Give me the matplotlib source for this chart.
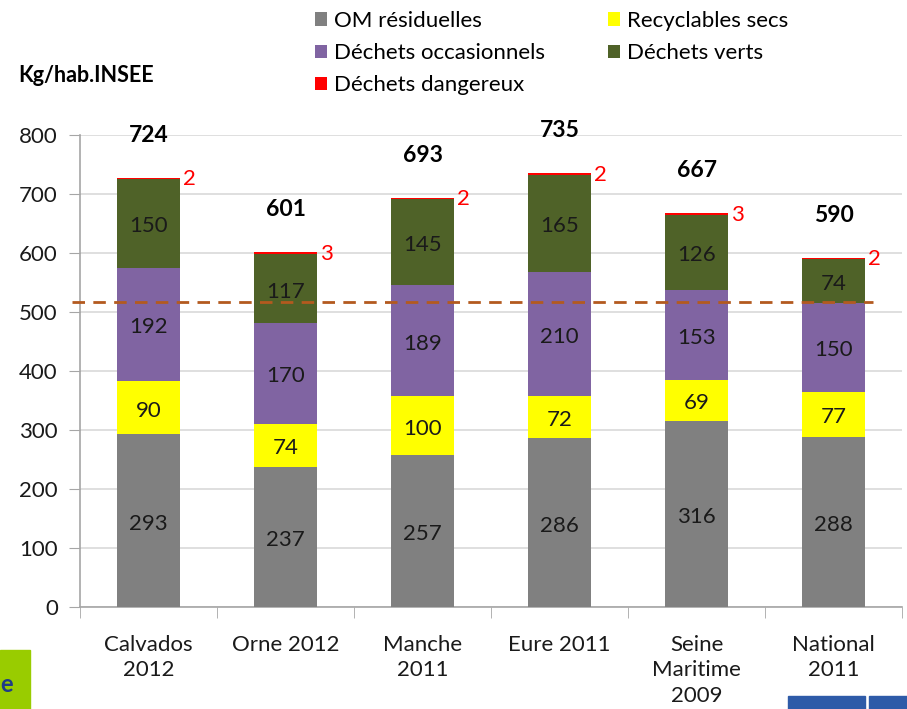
import numpy as np
import matplotlib.pyplot as plt
from matplotlib.patches import Rectangle

# data
regions = ["Calvados\n2012", "Orne 2012", "Manche\n2011", "Eure 2011", "Seine\nMaritime\n2009", "National\n2011"]
om_residuelles = [293, 237, 257, 286, 316, 288]
recyclables = [90, 74, 100, 72, 69, 77]
occasionnels = [192, 170, 189, 210, 153, 150]
verts = [150, 117, 145, 165, 126, 74]
dangereux = [2, 3, 2, 2, 3, 2]
totals = [724, 601, 693, 735, 667, 590]
ref_line = 517

series = [
    ("OM résiduelles", om_residuelles, "#808080"),
    ("Recyclables secs", recyclables, "#FFFF00"),
    ("Déchets occasionnels", occasionnels, "#8064A2"),
    ("Déchets verts", verts, "#4F6228"),
    ("Déchets dangereux", dangereux, "#FF0000"),
]

plt.rcParams["font.family"] = ["Lato", "DejaVu Sans"]
fs = 16

fig = plt.figure(figsize=(9.07, 7.09), dpi=100)
ax = fig.add_axes([80 / 907, 102 / 709, 822 / 907, 472 / 709])

x = np.arange(len(regions))
bottom = np.zeros(len(regions))
handles = []
for name, vals, col in series:
    vals = np.array(vals, dtype=float)
    b = ax.bar(x, vals, 0.46, bottom=bottom, color=col, zorder=3, label=name)
    handles.append(b)
    if name != "Déchets dangereux":
        for xi, yb, v in zip(x, bottom, vals):
            ax.text(xi, yb + v / 2 - 5, str(int(v)), ha="center", va="center",
                    fontsize=fs, color="#1a1a1a", zorder=4)
    else:
        for xi, yb, v in zip(x, bottom, vals):
            ax.text(xi + 0.25, yb + v - 2, str(int(v)), ha="left", va="center",
                    fontsize=fs, color="#FF0000", zorder=4)
    bottom += vals

for xi, t, top in zip(x, totals, bottom):
    ax.text(xi, top + 72, str(t), ha="center", va="center", fontsize=16.5,
            fontweight="bold", color="black")

ax.axhline(ref_line, xmin=-0.01, xmax=0.965, color="#B35A1F", ls=(0, (4.5, 3)),
           lw=2, zorder=5, clip_on=False)

ax.set_xlim(-0.5, 5.5)
ax.set_ylim(0, 800)
ax.set_yticks(range(0, 801, 100))
ax.set_xticks(x)
ax.set_xticklabels(regions, fontsize=fs, color="#1a1a1a", linespacing=1.35)
ax.set_xticks(np.arange(-0.5, 6, 1), minor=True)
ax.tick_params(axis="x", which="major", length=0, pad=20)
ax.tick_params(axis="x", which="minor", length=8, color="#A6A6A6")
ax.tick_params(axis="y", length=8, color="#A6A6A6", labelsize=fs,
               labelcolor="#1a1a1a", pad=8)
ax.yaxis.grid(True, color="#D9D9D9", lw=1.2, zorder=0)
for s in ["top", "right"]:
    ax.spines[s].set_visible(False)
for s in ["left", "bottom"]:
    ax.spines[s].set_color("#A6A6A6")
    ax.spines[s].set_linewidth(1.2)

fig.text(18 / 907, 1 - 75 / 709, "Kg/hab.INSEE", fontsize=15.5, fontweight="bold",
         va="center", ha="left")

order = [0, 2, 4, 1, 3]
fig.legend([handles[i] for i in order], [series[i][0] for i in order],
           loc="upper left", bbox_to_anchor=(306 / 907, 1.0 - 2 / 709), ncol=2,
           frameon=False, fontsize=fs, handlelength=0.55, handleheight=0.55,
           handletextpad=0.3, columnspacing=2.85, labelspacing=0.55,
           borderaxespad=0.0)

# bits of slide decoration at the edges
fig.patches.append(Rectangle((0, 0), 30 / 907, 59 / 709, transform=fig.transFigure,
                             color="#99CC00", zorder=0))
fig.text(0, 25 / 709, "e", fontsize=17, fontweight="bold", color="#1F3C88",
         va="center", ha="left")
fig.patches.append(Rectangle((788 / 907, 0), 77 / 907, 13 / 709, transform=fig.transFigure,
                             color="#2E5BA8", zorder=0))
fig.patches.append(Rectangle((869 / 907, 0), 38 / 907, 13 / 709, transform=fig.transFigure,
                             color="#2E5BA8", zorder=0))

fig.savefig("out.png", dpi=100)
